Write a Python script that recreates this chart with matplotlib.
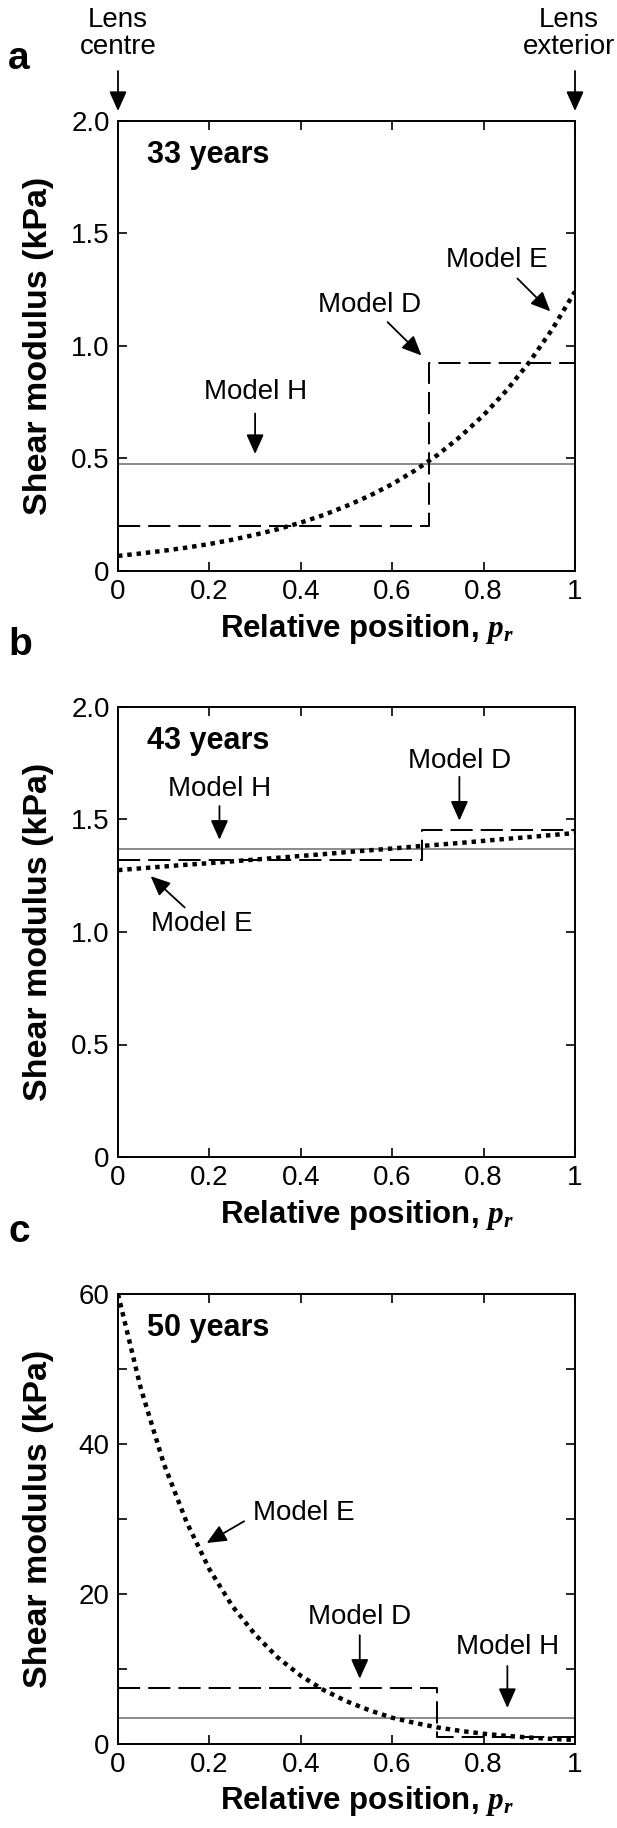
import matplotlib
matplotlib.use('Agg')
import matplotlib.pyplot as plt

plt.rcParams['font.family'] = ['Liberation Sans', 'DejaVu Sans']
plt.rcParams['mathtext.fontset'] = 'custom'
plt.rcParams['mathtext.rm'] = 'Liberation Sans'
plt.rcParams['mathtext.it'] = 'Liberation Serif:italic:bold'

# relative position samples (lens centre -> lens exterior)
pos = [0.0, 0.05, 0.1, 0.15, 0.2, 0.25, 0.3, 0.35, 0.4, 0.45, 0.5,
       0.55, 0.6, 0.65, 0.7, 0.75, 0.8, 0.85, 0.9, 0.95, 1.0]

# Model E (exponential)
e33 = [0.067, 0.078, 0.090, 0.104, 0.120, 0.139, 0.161, 0.186, 0.215, 0.249, 0.289,
       0.334, 0.386, 0.447, 0.517, 0.599, 0.693, 0.802, 0.928, 1.074, 1.242]
e43 = [1.275, 1.283, 1.291, 1.299, 1.306, 1.314, 1.322, 1.330, 1.338, 1.346, 1.355,
       1.363, 1.371, 1.380, 1.388, 1.396, 1.405, 1.414, 1.422, 1.431, 1.440]
e50 = [60.0, 47.4, 37.4, 29.6, 23.3, 18.4, 14.6, 11.5, 9.1, 7.2, 5.7,
       4.5, 3.5, 2.8, 2.2, 1.74, 1.37, 1.08, 0.86, 0.68, 0.54]
e_vals = [e33, e43, e50]

# Model H (homogeneous)
h_vals = [0.475, 1.367, 3.46]

# Model D (two zones): boundary, inner value, outer value
d_step = [0.68, 0.665, 0.697]
d_inner = [0.20, 1.321, 7.42]
d_outer = [0.925, 1.452, 0.99]

ages = ['33 years', '43 years', '50 years']
letters = ['a', 'b', 'c']
y_max = [2.0, 2.0, 60]
y_ticks = [[0, 0.5, 1.0, 1.5, 2.0], [0, 0.5, 1.0, 1.5, 2.0], [0, 10, 20, 30, 40, 50, 60]]
y_ticklabels = [['0', '0.5', '1.0', '1.5', '2.0'], ['0', '0.5', '1.0', '1.5', '2.0'],
                ['0', '', '20', '', '40', '', '60']]
x_ticks = [0, 0.2, 0.4, 0.6, 0.8, 1.0]
x_ticklabels = ['0', '0.2', '0.4', '0.6', '0.8', '1']

W, H = 617, 1828
fig = plt.figure(figsize=(W / 100, H / 100), dpi=100)

ax_left, ax_w, ax_h = 118, 457, 450
tops = [121, 707, 1294]

arrow_kw = dict(arrowstyle='-|>,head_length=0.85,head_width=0.38', color='k',
                lw=1.3, shrinkA=0, shrinkB=0, mutation_scale=14)

# annotation layout per panel: (label, text xy, arrow start, arrow tip)
notes = [
    [('Model H', (0.30, 0.794), (0.30, 0.70), (0.30, 0.52)),
     ('Model D', (0.551, 1.184), (0.59, 1.106), (0.664, 0.958)),
     ('Model E', (0.83, 1.384), (0.874, 1.30), (0.946, 1.154))],
    [('Model H', (0.222, 1.634), (0.222, 1.56), (0.222, 1.41)),
     ('Model D', (0.747, 1.76), (0.747, 1.69), (0.747, 1.495)),
     ('Model E', (0.183, 1.036), (0.146, 1.109), (0.0715, 1.248))],
    [('Model E', (0.407, 30.8), (0.276, 29.7), (0.194, 26.8)),
     ('Model D', (0.529, 16.9), (0.529, 14.5), (0.529, 8.7)),
     ('Model H', (0.852, 12.9), (0.852, 10.4), (0.852, 4.8))],
]

for i in range(3):
    top = tops[i]
    ax = fig.add_axes([ax_left / W, 1 - (top + ax_h) / H, ax_w / W, ax_h / H])

    ax.plot([0, 1], [h_vals[i], h_vals[i]], color='#8a8a8a', lw=1.4)
    ax.plot([0, d_step[i], d_step[i], 1], [d_inner[i], d_inner[i], d_outer[i], d_outer[i]],
            color='k', lw=1.45, linestyle=(0, (11, 4)))
    ax.plot(pos, e_vals[i], color='k', lw=3.2, linestyle=(0, (1, 1.1)))

    ax.set_xlim(0, 1)
    ax.set_ylim(0, y_max[i])
    ax.set_xticks(x_ticks)
    ax.set_xticklabels(x_ticklabels)
    ax.set_yticks(y_ticks[i])
    ax.set_yticklabels(y_ticklabels[i])
    ax.tick_params(direction='in', top=True, right=True, length=6.5, width=1.2,
                   labelsize=20, pad=6)
    for s in ax.spines.values():
        s.set_linewidth(1.4)

    ax.set_ylabel('Shear modulus (kPa)', fontsize=24.5, fontweight='bold')
    ax.yaxis.set_label_coords(-0.140, 0.5)
    ax.set_xlabel('Relative position, $p_r$', fontsize=22.5, fontweight='bold')
    ax.xaxis.set_label_coords(0.545, -0.09)

    ax.text(0.063, 0.925, ages[i], transform=ax.transAxes, fontsize=22,
            fontweight='bold', ha='left', va='center')

    for label, txy, start, tip in notes[i]:
        ax.text(txy[0], txy[1], label, fontsize=20, ha='center', va='center')
        ax.annotate('', xy=tip, xytext=start, arrowprops=arrow_kw)

    fig.text(8 / W, 1 - (top - 62) / H, letters[i], fontsize=28, fontweight='bold',
             ha='left', va='center')

    if i == 0:
        trans = ax.get_xaxis_transform()
        ax.text(0, 1 + 87 / ax_h, 'Lens\ncentre', transform=trans,
                fontsize=20, ha='center', va='center', linespacing=1.05)
        ax.text(1.0 + 40 / ax_w, 1 + 87 / ax_h, 'Lens\nexterior', transform=trans,
                fontsize=20, ha='right', va='center', multialignment='center',
                linespacing=1.05)
        for xv in [0, 1]:
            ax.annotate('', xy=(xv, 1 + 10 / ax_h), xytext=(xv, 1 + 50 / ax_h),
                        xycoords=trans, textcoords=trans,
                        arrowprops=arrow_kw, annotation_clip=False)

fig.savefig('out.png', dpi=100)
